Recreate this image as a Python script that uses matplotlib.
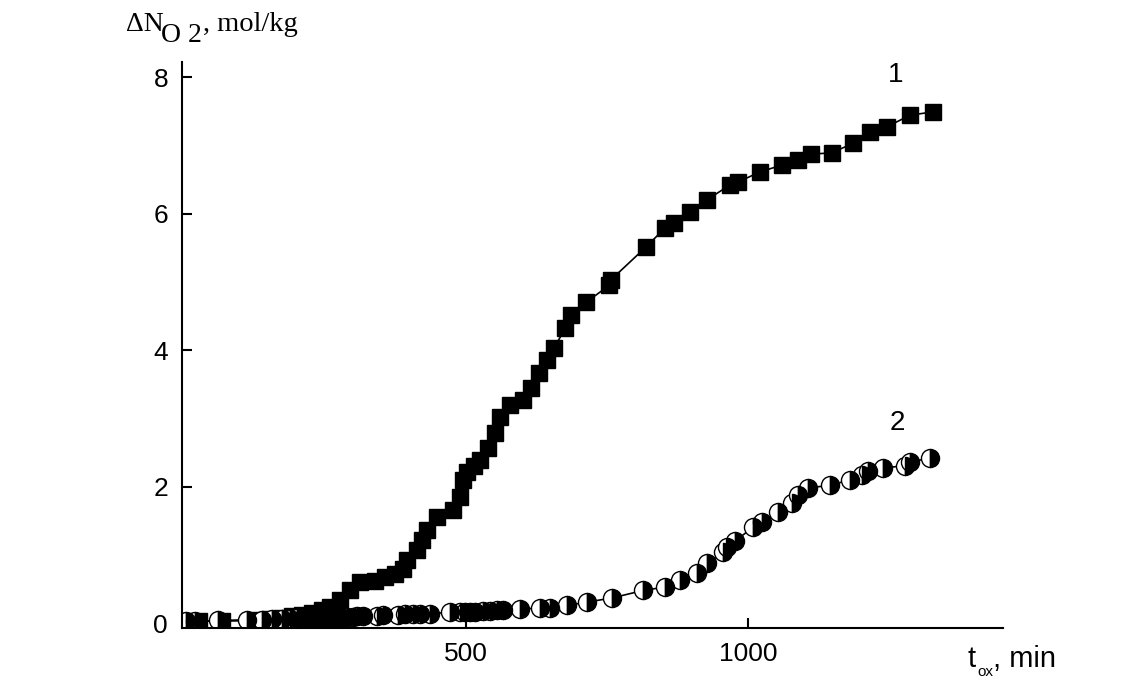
import numpy as np
import matplotlib
matplotlib.use("Agg")
import matplotlib.pyplot as plt

# curve 1 (squares)
t1 = [4, 27, 67, 126, 152, 174, 191, 209, 227, 245, 259, 277, 294, 312, 339, 356,
      374, 388, 395, 413, 422, 431, 449, 477, 489, 495, 502, 514, 525, 539, 551,
      560, 578, 601, 615, 630, 643, 656, 676, 686, 713, 754, 757, 819, 853, 869,
      897, 927, 968, 982, 1021, 1060, 1089, 1112, 1149, 1186, 1216, 1246, 1287, 1328]
n1 = [0.03, 0.03, 0.03, 0.04, 0.06, 0.08, 0.10, 0.12, 0.15, 0.19, 0.24, 0.34, 0.48,
      0.60, 0.62, 0.67, 0.72, 0.80, 0.92, 1.07, 1.22, 1.36, 1.55, 1.66, 1.85, 2.10,
      2.21, 2.30, 2.39, 2.56, 2.78, 3.02, 3.19, 3.27, 3.45, 3.66, 3.85, 4.03, 4.32,
      4.51, 4.70, 4.95, 5.03, 5.51, 5.79, 5.86, 6.02, 6.20, 6.42, 6.46, 6.61, 6.71,
      6.78, 6.87, 6.89, 7.03, 7.19, 7.27, 7.44, 7.49]

# curve 2 (half-filled circles)
t2 = [3, 20, 60, 112, 138, 156, 174, 188, 200, 211, 220, 229, 238, 246, 255, 264,
      273, 282, 289, 300, 307, 317, 342, 353, 379, 392, 406, 418, 436, 472, 489,
      498, 507, 516, 530, 543, 555, 566, 596, 631, 649, 679, 715, 759, 814, 853,
      879, 910, 927, 956, 963, 977, 1009, 1025, 1053, 1078, 1089, 1106, 1145, 1181,
      1202, 1213, 1239, 1278, 1287, 1323]
n2 = [0.03, 0.03, 0.04, 0.05, 0.05, 0.06, 0.06, 0.06, 0.07, 0.07, 0.07, 0.07, 0.07,
      0.08, 0.08, 0.08, 0.08, 0.08, 0.09, 0.09, 0.10, 0.10, 0.11, 0.12, 0.12, 0.13,
      0.13, 0.14, 0.14, 0.16, 0.16, 0.17, 0.17, 0.17, 0.18, 0.18, 0.19, 0.20, 0.21,
      0.22, 0.23, 0.26, 0.31, 0.37, 0.48, 0.53, 0.64, 0.73, 0.88, 1.04, 1.11, 1.20,
      1.41, 1.48, 1.63, 1.76, 1.88, 1.98, 2.02, 2.10, 2.17, 2.23, 2.27, 2.31, 2.36, 2.42]

xticks = [500, 1000]
yticks = [0, 2, 4, 6, 8]

W, H = 1145, 677
plt.rcParams['font.family'] = ['Liberation Sans', 'DejaVu Sans']

fig = plt.figure(figsize=(W / 100, H / 100), dpi=100)
ax = fig.add_axes([182 / W, 1 - 628 / H, (1003 - 182) / W, (628 - 62) / H])

ax.plot(t1, n1, color='black', lw=1.2, marker='s', ms=11, mec='black', mfc='black')
ax.plot(t2, n2, color='black', lw=1.2, marker='o', ms=13, fillstyle='left',
        mfc='white', mfcalt='black', mec='black', mew=1.0)

ax.set_xlim(-3.5, 1452)
ax.set_ylim(-0.07, 8.22)
ax.set_xticks(xticks)
ax.set_yticks(yticks)
for s in ['top', 'right']:
    ax.spines[s].set_visible(False)
for s in ['left', 'bottom']:
    ax.spines[s].set_linewidth(1.5)
ax.tick_params(direction='in', length=7, width=1.5, labelsize=19, pad=10)

# curve labels
ax.text(1261, 8.03, '1', fontsize=20, ha='center', va='center')
ax.text(1264, 2.93, '2', fontsize=20, ha='center', va='center')

# axis titles, placed like the original
serif = ['Liberation Serif', 'DejaVu Serif']
fig.text(126 / W, 1 - 31 / H, '\u0394N', family=serif, fontsize=20, va='baseline')
fig.text(161 / W, 1 - 42 / H, 'O 2', family=serif, fontsize=20, va='baseline')
fig.text(203 / W, 1 - 31 / H, ', mol/kg', family=serif, fontsize=20.5, va='baseline')

fig.text(968 / W, 1 - 667 / H, 't', fontsize=21, va='baseline')
fig.text(977 / W, 1 - 676 / H, 'ox', fontsize=11, va='baseline')
fig.text(993 / W, 1 - 667 / H, ', min', fontsize=21, va='baseline')

fig.savefig('out.png', dpi=100)
